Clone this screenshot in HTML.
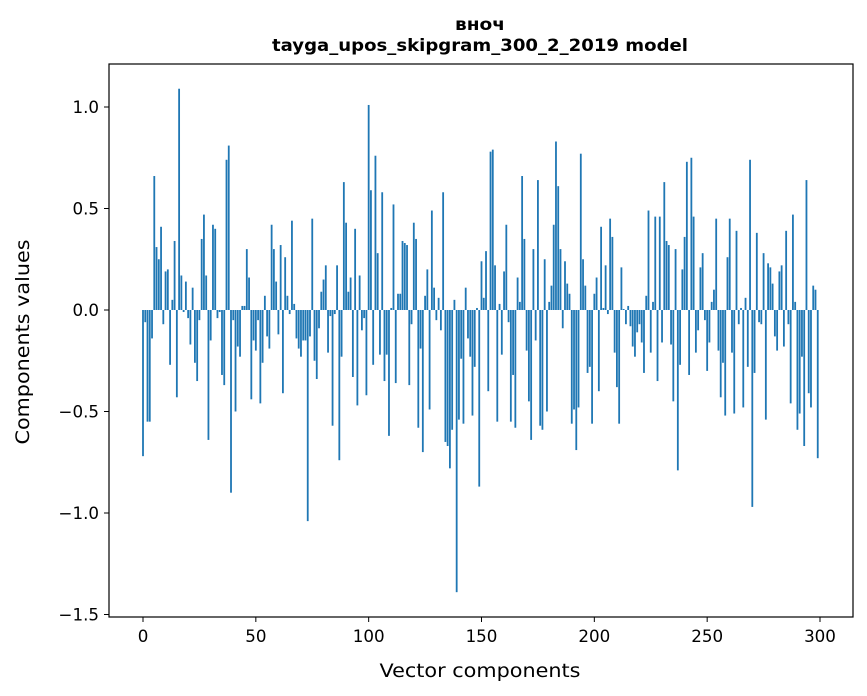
<!DOCTYPE html>
<html><head><meta charset="utf-8"><style>
html,body{margin:0;padding:0;background:#fff;}
svg{display:block;font-family:"DejaVu Sans","Liberation Sans",sans-serif;}
</style></head><body>
<svg id="chart" width="867" height="696" viewBox="0 0 867 696" xmlns="http://www.w3.org/2000/svg">
<text x="480" y="30" text-anchor="middle" font-size="17" font-weight="bold" textLength="50" lengthAdjust="spacingAndGlyphs">вноч</text>
<text x="480" y="51" text-anchor="middle" font-size="17" font-weight="bold" textLength="416" lengthAdjust="spacingAndGlyphs">tayga_upos_skipgram_300_2_2019 model</text>
<g id="bars"></g>
<g id="xticks"></g>
<g id="yticks"></g>
<rect x="109" y="64" width="744" height="553" fill="none" stroke="#000" stroke-width="1.2"/>
<text x="480" y="677" text-anchor="middle" font-size="19" textLength="201" lengthAdjust="spacingAndGlyphs">Vector components</text>
<text transform="translate(29,342) rotate(-90)" text-anchor="middle" font-size="19" textLength="205" lengthAdjust="spacingAndGlyphs">Components values</text>
</svg>
<script>
const values = [
-0.72,-0.06,-0.55,-0.55,-0.14,0.66,0.31,0.25,0.41,-0.07,
0.19,0.20,-0.27,0.05,0.34,-0.43,1.09,0.17,-0.01,0.14,
-0.04,-0.17,0.11,-0.26,-0.35,-0.05,0.35,0.47,0.17,-0.64,
-0.15,0.42,0.40,-0.04,-0.01,-0.32,-0.37,0.74,0.81,-0.90,
-0.05,-0.50,-0.18,-0.23,0.02,0.02,0.30,0.16,-0.44,-0.15,
-0.20,-0.05,-0.46,-0.26,0.07,-0.13,-0.19,0.42,0.30,0.14,
-0.12,0.32,-0.41,0.26,0.07,-0.02,0.44,0.03,-0.14,-0.19,
-0.23,-0.15,-0.15,-1.04,-0.13,0.45,-0.25,-0.34,-0.09,0.09,
0.15,0.22,-0.21,-0.03,-0.57,-0.02,0.22,-0.74,-0.23,0.63,
0.43,0.09,0.16,-0.33,0.40,-0.47,0.17,-0.10,-0.04,-0.42,
1.01,0.59,-0.27,0.76,0.28,-0.22,0.58,-0.35,-0.22,-0.62,
0.01,0.52,-0.36,0.08,0.08,0.34,0.33,0.32,-0.37,-0.07,
0.43,0.35,-0.58,-0.19,-0.70,0.07,0.20,-0.49,0.49,0.11,
-0.05,0.06,-0.10,0.58,-0.65,-0.67,-0.78,-0.59,0.05,-1.39,
-0.54,-0.24,-0.56,0.11,-0.14,-0.23,-0.52,-0.28,0.01,-0.87,
0.24,0.06,0.29,-0.40,0.78,0.79,0.22,-0.55,0.03,-0.22,
0.19,0.42,-0.06,-0.55,-0.32,-0.58,0.16,0.04,0.66,0.35,
-0.20,-0.45,-0.64,0.30,-0.15,0.64,-0.57,-0.59,0.25,-0.50,
0.04,0.12,0.42,0.83,0.61,0.30,-0.09,0.24,0.13,0.08,
-0.56,-0.49,-0.69,-0.48,0.77,0.25,0.12,-0.31,-0.28,-0.56,
0.08,0.16,-0.40,0.41,0.01,0.22,-0.02,0.45,0.36,-0.21,
-0.38,-0.56,0.21,0.005,-0.07,0.02,-0.08,-0.18,-0.23,-0.11,
-0.07,-0.16,-0.31,0.07,0.49,-0.21,0.04,0.46,-0.35,0.46,
-0.16,0.63,0.34,0.32,-0.17,-0.45,0.30,-0.79,-0.27,0.20,
0.36,0.73,-0.32,0.75,0.46,-0.21,-0.10,0.21,0.28,-0.05,
-0.30,-0.16,0.04,0.10,0.45,-0.20,-0.43,-0.26,-0.52,0.26,
0.45,-0.21,-0.51,0.39,-0.07,0.01,-0.48,0.06,-0.28,0.74,
-0.97,-0.31,0.38,-0.06,-0.07,0.28,-0.54,0.23,0.21,0.13,
-0.13,-0.20,0.19,0.22,-0.18,0.39,-0.07,-0.46,0.47,0.04,
-0.59,-0.51,-0.23,-0.67,0.64,-0.41,-0.48,0.12,0.10,-0.73
];
const xTickValues = [0,50,100,150,200,250,300];
const xTickLabels = ["0","50","100","150","200","250","300"];
const yTickValues = [-1.5,-1.0,-0.5,0.0,0.5,1.0];
const yTickLabels = ["\u22121.5","\u22121.0","\u22120.5","0.0","0.5","1.0"];

const NS = "http://www.w3.org/2000/svg";
function xScale(v){ return 143 + v * (820 - 143) / 300; }
function yScale(v){ return 310 - v * 203; }

const barsG = document.getElementById('bars');
const bw = 0.8 * (820 - 143) / 300;
values.forEach(function(v, i){
  const r = document.createElementNS(NS, 'rect');
  
  
  const y0 = yScale(0), y1 = yScale(v);
  r.setAttribute('x', xScale(i) - bw / 2);
  r.setAttribute('y', Math.min(y0, y1));
  r.setAttribute('width', bw);
  r.setAttribute('height', Math.max(Math.abs(y1 - y0), 0.3));
  r.setAttribute('fill', '#1f77b4');
  barsG.appendChild(r);
});

const xg = document.getElementById('xticks');
xTickValues.forEach(function(v, i){
  const x = xScale(v);
  const l = document.createElementNS(NS, 'line');
  
  
  l.setAttribute('x1', x); l.setAttribute('x2', x);
  l.setAttribute('y1', 617); l.setAttribute('y2', 622);
  l.setAttribute('stroke', '#000');
  xg.appendChild(l);
  const t = document.createElementNS(NS, 'text');
  
  
  t.setAttribute('x', x); t.setAttribute('y', 642);
  t.setAttribute('text-anchor', 'middle');
  t.setAttribute('font-size', '16.7');
  t.textContent = xTickLabels[i];
  xg.appendChild(t);
});

const yg = document.getElementById('yticks');
yTickValues.forEach(function(v, i){
  const y = yScale(v);
  const l = document.createElementNS(NS, 'line');
  
  
  l.setAttribute('x1', 104); l.setAttribute('x2', 109);
  l.setAttribute('y1', y); l.setAttribute('y2', y);
  l.setAttribute('stroke', '#000');
  yg.appendChild(l);
  const t = document.createElementNS(NS, 'text');
  
  
  t.setAttribute('x', 99); t.setAttribute('y', y + 6);
  t.setAttribute('text-anchor', 'end');
  t.setAttribute('font-size', '16.7');
  t.textContent = yTickLabels[i];
  yg.appendChild(t);
});
</script>
</body></html>
